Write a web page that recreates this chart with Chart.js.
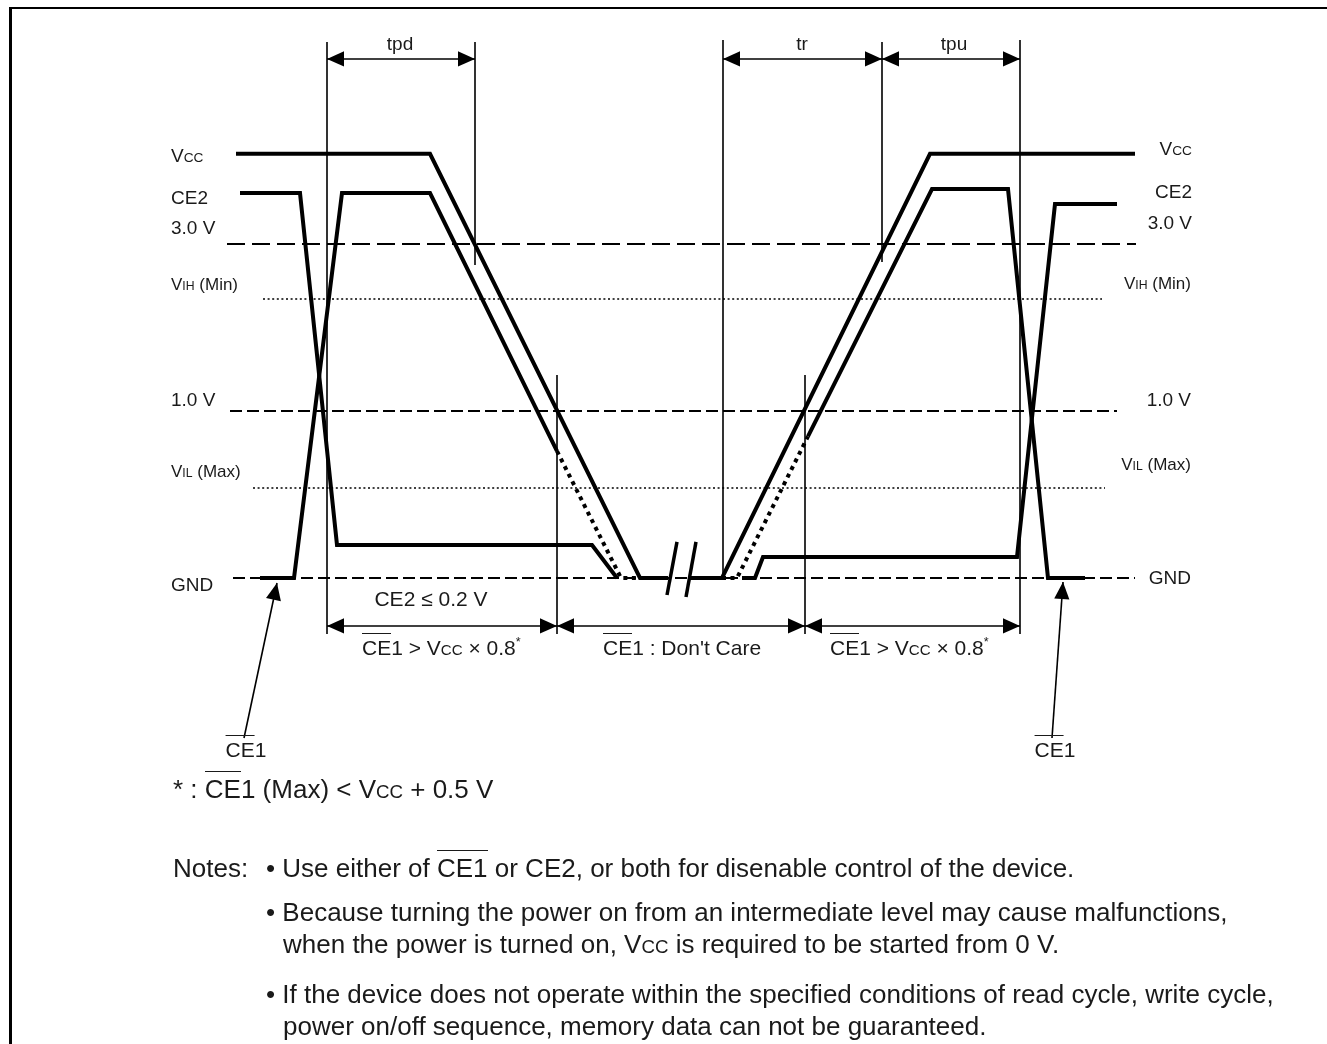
<!DOCTYPE html>
<html>
<head>
<meta charset="utf-8">
<script src="https://cdn.jsdelivr.net/npm/chart.js@4/dist/chart.umd.min.js"></script>
<style>
html,body{margin:0;padding:0;background:#fff;}
#wrap{position:relative;width:1327px;height:1044px;overflow:hidden;background:#fff;}
#c{position:absolute;left:0;top:0;}
#frame{position:absolute;left:9px;top:7px;width:1330px;height:1050px;border-left:3px solid #000;border-top:2px solid #000;}
.t{position:absolute;white-space:nowrap;font-family:"Liberation Sans",Arial,Helvetica,sans-serif;color:#1a1a1a;line-height:1;}
.sc{font-size:0.72em;}
.ol{border-top:1.6px solid #1a1a1a;padding-top:2px;}
.sup{font-size:0.6em;position:relative;top:-0.75em;}
</style>
</head>
<body>
<div id="wrap">
<canvas id="c" width="1327" height="1044"></canvas>
<div id="frame"></div>
</div>
<script>
// ---------- DATA (x: time units, y: diagram level units, GND = 0, 1.0 V = 1, 3.0 V = 2) ----------
const levelNames  = ['GND', 'VIL (Max)', '1.0 V', 'VIH (Min)', '3.0 V'];
const levelValues = [0, 0.539, 1, 1.671, 2];
const levelStartX = [233, 253, 230, 263, 227];
const levelEndX   = [1135, 1105, 1117, 1102, 1136];

// signal waveforms [t, level]
const vccFall      = [[236,2.54],[430,2.54],[640,0],[668,0]];
const vccRise      = [[690,0],[722,0],[930,2.54],[1135,2.54]];
const ce1LeftSolid = [[260,0],[294,0],[342,2.305],[430,2.305],[557,0.76]];
const ce1LeftDC    = [[557,0.76],[621,0],[640,0]];
const ce2Left      = [[240,2.305],[300,2.305],[337,0.198],[592,0.198],[617,0]];
const ce1RightDC   = [[722,0],[737,0],[808,0.848]];
const ce1RightSolid= [[808,0.848],[932,2.329],[1008,2.329],[1048,0],[1085,0]];
const ce2Right     = [[742,0],[755,0],[763,0.126],[1017,0.126],[1055,2.24],[1117,2.24]];
const breakMarks   = [[[677,0.216],[667,-0.102]], [[696,0.216],[686,-0.114]]];

// timing reference lines [t, topLevel, bottomLevel]
const markerT      = [327, 475, 557, 723, 882, 805, 1020];
const markerTop    = [3.21, 3.21, 1.216, 3.222, 3.21, 1.216, 3.222];
const markerBottom = [-0.335, 1.874, -0.335, 0.012, 1.892, -0.335, -0.335];

// dimension arrows
const topArrowLevel = 3.108;
const topArrowNames = ['tpd', 'tr', 'tpu'];
const topArrowFrom  = [327, 723, 882];
const topArrowTo    = [475, 882, 1020];
const botArrowLevel = -0.287;
const botArrowFrom  = [327, 557, 805];
const botArrowTo    = [557, 805, 1020];
// leader arrows for CE1 [from, tip]
const leaders = [[[244,-0.958],[277,-0.03]], [[1052,-0.958],[1063,-0.024]]];

// ---------- CHART ----------
const PX_PER_LEVEL = 167, GND_PX = 578, H = 1044, W = 1327;
const YMAX = GND_PX / PX_PER_LEVEL, YMIN = -(H - GND_PX) / PX_PER_LEVEL;
const K = '#000';
const pts = a => a.map(([x,y]) => ({x, y}));
function ds(a, w, dash) {
  return {data: pts(a), showLine: true, borderColor: K, backgroundColor: K, borderWidth: w,
          borderDash: dash || [], pointRadius: 0, pointHoverRadius: 0, fill: false,
          borderCapStyle: 'butt', borderJoinStyle: 'miter', clip: false, tension: 0};
}
const datasets = [];
const levelDash = [[12,5],[2,2.6],[12,5],[2,2.6],[18,7]];
const levelW = [2,1.5,2,1.5,2];
levelValues.forEach((v,i) => datasets.push(ds([[levelStartX[i],v],[levelEndX[i],v]], levelW[i], levelDash[i])));
markerT.forEach((t,i) => datasets.push(ds([[t,markerTop[i]],[t,markerBottom[i]]], 1.6)));
const arrows = [];
topArrowFrom.forEach((f,i) => arrows.push({a:[f,topArrowLevel], b:[topArrowTo[i],topArrowLevel], both:true}));
botArrowFrom.forEach((f,i) => arrows.push({a:[f,botArrowLevel], b:[botArrowTo[i],botArrowLevel], both:true}));
leaders.forEach(l => arrows.push({a:l[0], b:l[1], both:false}));
arrows.forEach(ar => datasets.push(ds([ar.a, ar.b], 1.6)));
[vccFall, vccRise, ce1LeftSolid, ce2Left, ce1RightSolid, ce2Right].forEach(s => datasets.push(ds(s, 4)));
[ce1LeftDC, ce1RightDC].forEach(s => datasets.push(ds(s, 4, [4,4.5])));
breakMarks.forEach(b => datasets.push(ds(b, 3.5)));

const arrowHeads = {
  id: 'arrowHeads',
  afterDatasetsDraw(chart) {
    const {ctx, scales: {x, y}} = chart;
    const head = (tx, ty, fx, fy) => {
      const dx = tx - fx, dy = ty - fy, L = Math.hypot(dx, dy), ux = dx / L, uy = dy / L;
      const len = 17, hw = 7.6;
      const bx = tx - ux * len, by = ty - uy * len;
      ctx.beginPath();
      ctx.moveTo(tx, ty);
      ctx.lineTo(bx - uy * hw, by + ux * hw);
      ctx.lineTo(bx + uy * hw, by - ux * hw);
      ctx.closePath();
      ctx.fill();
    };
    ctx.save();
    ctx.fillStyle = K;
    arrows.forEach(ar => {
      const ax = x.getPixelForValue(ar.a[0]), ay = y.getPixelForValue(ar.a[1]);
      const bx = x.getPixelForValue(ar.b[0]), by = y.getPixelForValue(ar.b[1]);
      head(bx, by, ax, ay);
      if (ar.both) head(ax, ay, bx, by);
    });
    ctx.restore();
  }
};

const chart = new Chart(document.getElementById('c'), {
  type: 'scatter',
  data: {datasets},
  options: {
    responsive: false, animation: false, devicePixelRatio: 1,
    layout: {padding: 0},
    events: [],
    plugins: {legend: {display: false}, tooltip: {enabled: false}, title: {display: false}},
    scales: {
      x: {type: 'linear', min: 0, max: W, display: false},
      y: {type: 'linear', min: YMIN, max: YMAX, display: false}
    }
  },
  plugins: [arrowHeads]
});

// ---------- TEXT ----------
const wrap = document.getElementById('wrap');
function lbl(html, x, base, size, align) {
  const d = document.createElement('div');
  d.className = 't';
  d.innerHTML = html;
  d.style.fontSize = size + 'px';
  d.style.top = (base - 0.8465 * size) + 'px';
  d.style.left = x + 'px';
  if (align === 'r') d.style.transform = 'translateX(-100%)';
  if (align === 'c') d.style.transform = 'translateX(-50%)';
  wrap.appendChild(d);
}
const VCC = 'V<span class="sc">CC</span>';
const VIH = 'V<span class="sc">IH</span> (Min)';
const VIL = 'V<span class="sc">IL</span> (Max)';
const CE1 = '<span class="ol">CE</span>1';
// left labels
lbl(VCC, 171, 162, 19); lbl('CE2', 171, 204, 19); lbl('3.0 V', 171, 234, 19);
lbl(VIH, 171, 290, 17); lbl('1.0 V', 171, 406, 19); lbl(VIL, 171, 477, 17); lbl('GND', 171, 591, 19);
// right labels
lbl(VCC, 1192, 155, 19, 'r'); lbl('CE2', 1192, 198, 19, 'r'); lbl('3.0 V', 1192, 229, 19, 'r');
lbl(VIH, 1191, 289, 17, 'r'); lbl('1.0 V', 1191, 406, 19, 'r'); lbl(VIL, 1191, 470, 17, 'r'); lbl('GND', 1191, 584, 19, 'r');
// timing names
lbl(topArrowNames[0], 400, 50, 19, 'c'); lbl(topArrowNames[1], 802, 50, 19, 'c'); lbl(topArrowNames[2], 954, 50, 19, 'c');
// bottom conditions
lbl('CE2 \u2264 0.2 V', 431, 606, 21, 'c');
lbl(CE1 + ' &gt; ' + VCC + ' \u00d7 0.8<span class="sup">*</span>', 362, 655, 21);
lbl(CE1 + ' : Don\'t Care', 603, 655, 21);
lbl(CE1 + ' &gt; ' + VCC + ' \u00d7 0.8<span class="sup">*</span>', 830, 655, 21);
lbl(CE1, 246, 757, 21, 'c'); lbl(CE1, 1055, 757, 21, 'c');
// footnote & notes
lbl('* : ' + CE1 + ' (Max) &lt; V<span class="sc">CC</span> + 0.5 V', 173, 798, 26);
lbl('Notes:', 173, 877, 26);
lbl('\u2022 Use either of <span class="ol">CE1</span> or CE2, or both for disenable control of the device.', 266, 877, 26);
lbl('\u2022 Because turning the power on from an intermediate level may cause malfunctions,', 266, 921, 26);
lbl('when the power is turned on, V<span class="sc">CC</span> is required to be started from 0 V.', 283, 953, 26);
lbl('\u2022 If the device does not operate within the specified conditions of read cycle, write cycle,', 266, 1003, 26);
lbl('power on/off sequence, memory data can not be guaranteed.', 283, 1035, 26);
</script>
</body>
</html>
